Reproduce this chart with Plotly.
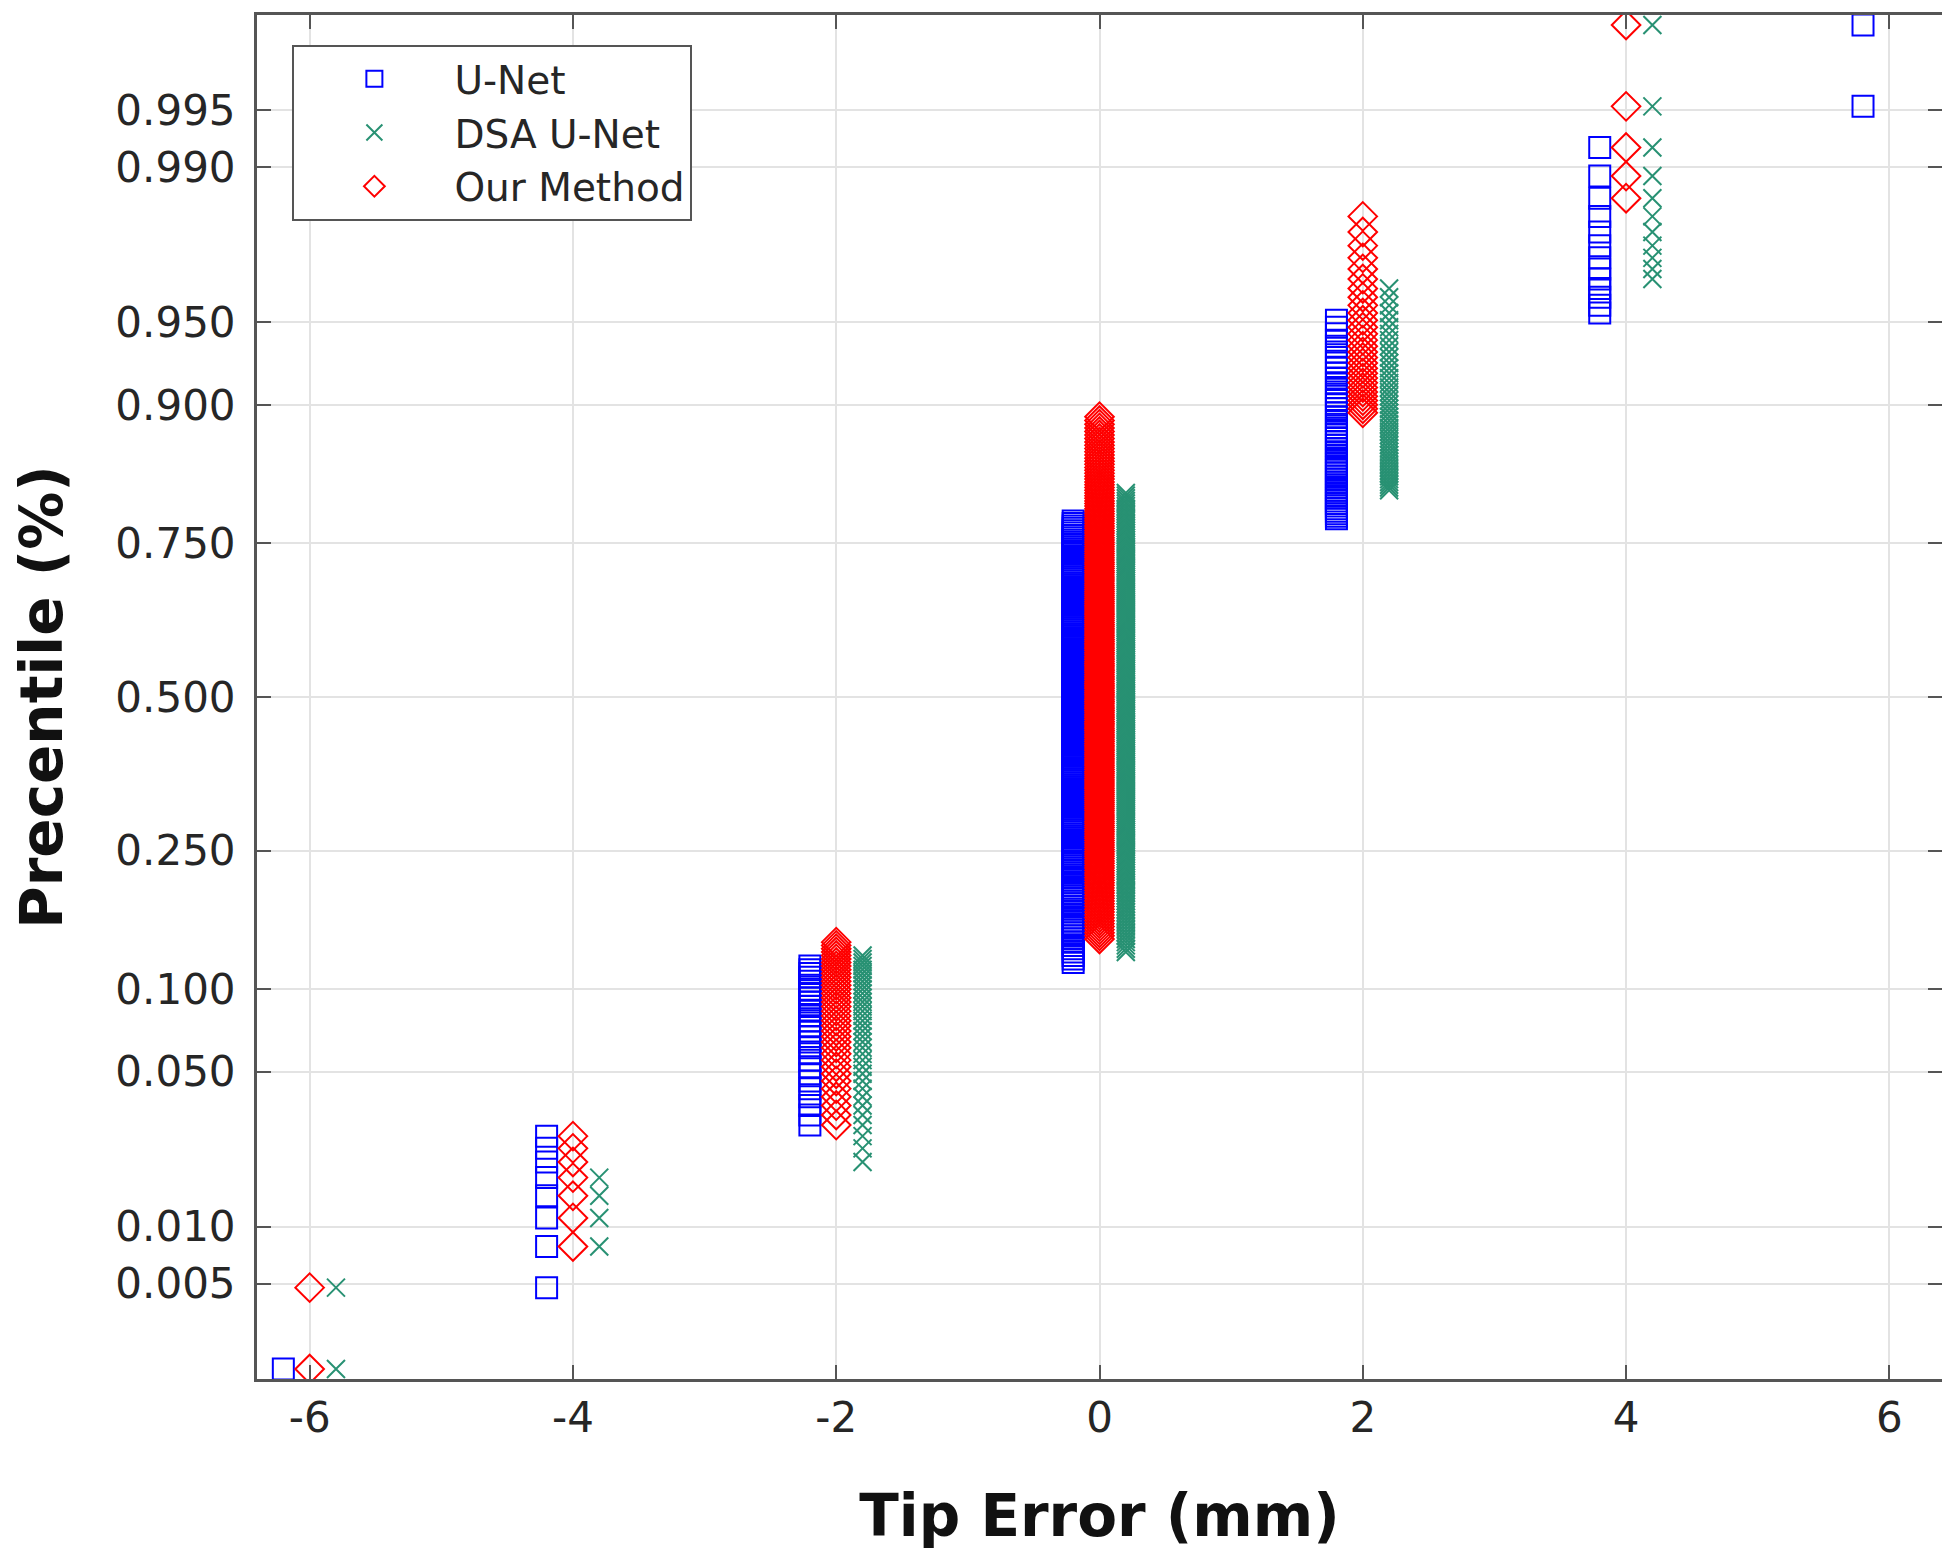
from statistics import NormalDist
import plotly.graph_objects as go

# tip error bins (mm) and number of cases per bin
errors = [-6, -4, -2, 0, 2, 4, 6]
unet_counts = [1, 8, 29, 209, 54, 13, 2]
dsa_counts = [2, 4, 35, 217, 47, 11, 0]
ours_counts = [2, 7, 36, 237, 29, 5, 0]

prob_ticks = [0.005, 0.010, 0.050, 0.100, 0.250, 0.500, 0.750, 0.900, 0.950, 0.990, 0.995]
x_ticks = [-6, -4, -2, 0, 2, 4, 6]

nd = NormalDist()


def normplot_points(counts, offset):
    # expand counts into sorted samples and give each its plotting percentile (i-0.5)/n
    samples = []
    for e, c in zip(errors, counts):
        samples += [e] * c
    n = len(samples)
    xs = [s + offset for s in samples]
    ys = [nd.inv_cdf((i + 0.5) / n) for i in range(n)]
    return xs, ys


fig = go.Figure()

series = [
    ("U-Net", unet_counts, -0.2, "square-open", 21, "rgb(0,0,255)"),
    ("DSA U-Net", dsa_counts, 0.2, "x-thin-open", 18, "rgb(40,145,115)"),
    ("Our Method", ours_counts, 0.0, "diamond-open", 22, "rgb(255,0,0)"),
]
for name, counts, off, sym, size, col in series:
    xs, ys = normplot_points(counts, off)
    fig.add_trace(go.Scatter(
        x=xs, y=ys, mode="markers", name=name,
        marker=dict(symbol=sym, size=size, color=col, line=dict(color=col, width=2)),
    ))

ylim = 2.995
fig.update_layout(
    width=1950, height=1561,
    paper_bgcolor="white", plot_bgcolor="white",
    margin=dict(l=249, r=16, t=4, b=190),
    font=dict(family="DejaVu Sans", size=42, color="#262626"),
    showlegend=True,
    legend=dict(
        x=0.021, y=0.978, xanchor="left", yanchor="top",
        bgcolor="white", bordercolor="#555555", borderwidth=2,
        font=dict(size=39, color="#262626"), itemwidth=150,
    ),
    xaxis=dict(
        range=[-6.4, 6.4], tickvals=x_ticks, ticktext=[str(v) for v in x_ticks],
        showgrid=True, gridcolor="#e3e3e3", gridwidth=2, zeroline=False,
        showline=True, linecolor="#555555", linewidth=3, mirror="ticks",
        ticks="inside", ticklen=14, tickwidth=2, tickcolor="#555555",
        title=dict(text="<b>Tip Error (mm)</b>", font=dict(size=58, color="#111111"), standoff=54),
    ),
    yaxis=dict(
        range=[-ylim, ylim],
        tickvals=[nd.inv_cdf(p) for p in prob_ticks],
        ticktext=["%.3f" % p for p in prob_ticks],
        ticklabelstandoff=10,
        showgrid=True, gridcolor="#e3e3e3", gridwidth=2, zeroline=False,
        showline=True, linecolor="#555555", linewidth=3, mirror="ticks",
        ticks="inside", ticklen=14, tickwidth=2, tickcolor="#555555",
        title=dict(text="<b>Precentile (%)</b>", font=dict(size=58, color="#111111"), standoff=36),
    ),
)

fig.write_html("out.html")
